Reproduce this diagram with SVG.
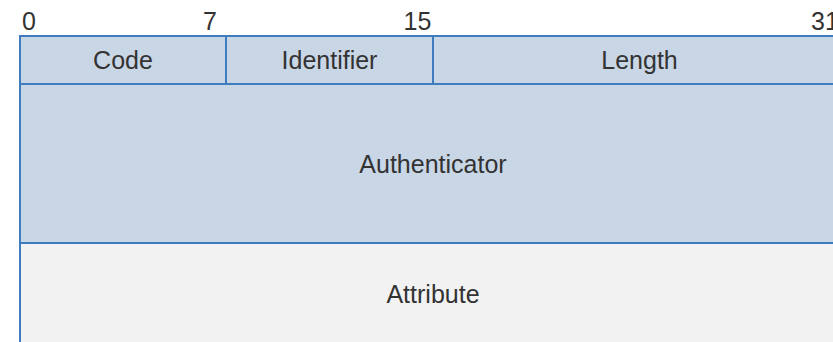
<svg xmlns="http://www.w3.org/2000/svg" width="833" height="342" viewBox="0 0 833 342">
  <style>
    .hdr { fill: #c9d6e6; stroke: #3e7cbf; stroke-width: 2; }
    .body { fill: #f2f2f2; stroke: #3e7cbf; stroke-width: 2; }
    .lbl { font-family: "Liberation Sans", Arial, sans-serif; font-size: 25px; fill: #333333; text-anchor: middle; }
    .bit { font-family: "Liberation Sans", Arial, sans-serif; font-size: 25px; fill: #333333; text-anchor: middle; }
  </style>
  <rect width="833" height="342" fill="#ffffff"/>
  <g id="bits">
    <text class="bit" x="29" y="30">0</text>
    <text class="bit" x="210" y="30">7</text>
    <text class="bit" x="417.5" y="30">15</text>
    <text class="bit" x="825" y="30">31</text>
  </g>
  <g id="authenticator">
    <rect class="hdr" x="20" y="84" width="826" height="159"/>
    <text class="lbl" x="433" y="173">Authenticator</text>
  </g>
  <g id="attribute">
    <rect class="body" x="20" y="243" width="826" height="110"/>
    <text class="lbl" x="433" y="303">Attribute</text>
  </g>
  <g id="code">
    <rect class="hdr" x="20" y="36" width="206" height="48"/>
    <text class="lbl" x="123" y="69">Code</text>
  </g>
  <g id="identifier">
    <rect class="hdr" x="226" y="36" width="207" height="48"/>
    <text class="lbl" x="329.5" y="69">Identifier</text>
  </g>
  <g id="length">
    <rect class="hdr" x="433" y="36" width="413" height="48"/>
    <text class="lbl" x="639.5" y="69">Length</text>
  </g>
  <g id="connectors"/>
</svg>
